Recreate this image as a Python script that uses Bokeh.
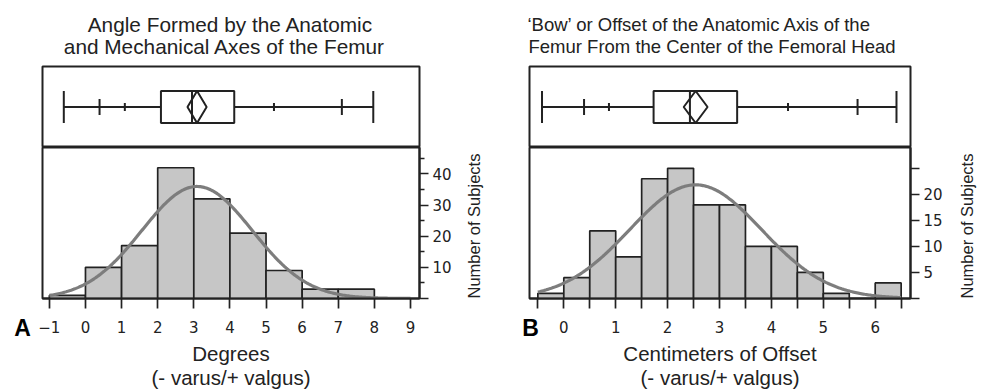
import numpy as np
from bokeh.plotting import figure
from bokeh.models import Range1d, FixedTicker, Label
from bokeh.layouts import gridplot
from bokeh.embed import file_html
from bokeh.resources import INLINE

# ---------------- Panel A: anatomic / mechanical axis angle ----------------
a_edges = [-1, 0, 1, 2, 3, 4, 5, 6, 7, 8, 9]
a_counts = [1, 10, 17, 42, 32, 21, 9, 3, 3, 0]
a_mean = 3.09
a_sd = 1.53
a_xticks = [-1, 0, 1, 2, 3, 4, 5, 6, 7, 8, 9]
a_yticks = [0, 10, 20, 30, 40]
a_yminor = [5, 15, 25, 35, 45]
# quantile box plot: min, 2.5%, 10%, Q1, median, Q3, 90%, 97.5%, max
a_box = [-0.6, 0.39, 1.09, 2.09, 2.95, 4.12, 5.22, 7.1, 7.97]
a_mean_ci = 0.265

# ---------------- Panel B: bow / offset ----------------
b_edges = [-0.5, 0, 0.5, 1, 1.5, 2, 2.5, 3, 3.5, 4, 4.5, 5, 5.5, 6, 6.5]
b_counts = [1, 4, 13, 8, 23, 25, 18, 18, 10, 10, 5, 1, 0, 3]
b_mean = 2.54
b_sd = 1.27
b_xticks = [0, 1, 2, 3, 4, 5, 6]
b_xminor = [-0.5, 0.5, 1.5, 2.5, 3.5, 4.5, 5.5, 6.5]
b_yticks = [0, 5, 10, 15, 20, 25]
b_box = [-0.42, 0.39, 0.87, 1.73, 2.43, 3.34, 4.32, 5.66, 6.41]
b_mean_ci = 0.23

a_title = ["Angle Formed by the Anatomic", "and Mechanical Axes of the Femur"]
b_title = ["\u2018Bow\u2019 or Offset of the Anatomic Axis of the",
           "Femur From the Center of the Femoral Head"]
a_xlabel = "Degrees\n(- varus/+ valgus)"
b_xlabel = "Centimeters of Offset\n(- varus/+ valgus)"
ylabel = "Number of Subjects"

INK = "#222222"
BAR = "#c6c6c6"
CURVE = "#7d7d7d"
TFONT = "Liberation Sans"
NFONT = "DejaVu Sans"


def box_fig(width, ml, mr, xr, stats, mean, ci, title, tx, talign, tsize):
    p = figure(width=width, height=147, x_range=xr, y_range=Range1d(0, 81),
               output_backend="svg", toolbar_location=None,
               x_axis_location=None, y_axis_location=None,
               min_border_left=ml, min_border_right=mr,
               min_border_top=66, min_border_bottom=0)
    p.grid.visible = False
    p.outline_line_color = INK
    p.outline_line_width = 2
    p.title.text = ""
    for line, x, y in zip(title, tx, [23.5, 45.5]):
        p.add_layout(Label(x=x, y=y, x_units="canvas", y_units="canvas", text=line,
                           text_font=TFONT, text_font_size=tsize,
                           text_color=INK, text_align=talign,
                           text_baseline="middle"), "above")
    c, h = 40.5, 16
    mn, p025, p10, q1, med, q3, p90, p975, mx = stats
    p.segment(x0=[mn], x1=[mx], y0=[c], y1=[c], line_color=INK, line_width=2)
    p.segment(x0=[mn, mx], x1=[mn, mx], y0=[c - h] * 2, y1=[c + h] * 2,
              line_color=INK, line_width=2)
    p.segment(x0=[p025, p975], x1=[p025, p975], y0=[c - 8] * 2, y1=[c + 8] * 2,
              line_color=INK, line_width=2)
    p.segment(x0=[p10, p90], x1=[p10, p90], y0=[c - 4] * 2, y1=[c + 4] * 2,
              line_color=INK, line_width=2)
    p.quad(left=[q1], right=[q3], bottom=[c - h], top=[c + h],
           fill_color="white", line_color=INK, line_width=2)
    p.segment(x0=[med], x1=[med], y0=[c - h], y1=[c + h], line_color=INK, line_width=2)
    p.patch(x=[mean - ci, mean, mean + ci, mean], y=[c, c + h, c, c - h],
            fill_color=None, line_color=INK, line_width=2)
    return p


def hist_fig(width, ml, mr, xr, ytop, edges, counts, mean, sd, xlabel, letter, lx, ylstand):
    p = figure(width=width, height=245, x_range=xr, y_range=Range1d(0, ytop),
               output_backend="svg", toolbar_location=None,
               y_axis_location="right",
               min_border_left=ml, min_border_right=mr,
               min_border_top=0, min_border_bottom=92)
    p.grid.visible = False
    p.outline_line_color = INK
    p.outline_line_width = 2
    p.quad(left=edges[:-1], right=edges[1:], bottom=0, top=counts,
           fill_color=BAR, line_color=INK, line_width=1.7)
    bw = edges[1] - edges[0]
    n = sum(counts)
    xs = np.linspace(edges[0], edges[-1], 300)
    ys = n * bw / (sd * np.sqrt(2 * np.pi)) * np.exp(-0.5 * ((xs - mean) / sd) ** 2)
    p.line(xs, ys, line_color=CURVE, line_width=3.2)

    xa = p.xaxis[0]
    xa.axis_line_color = INK
    xa.axis_line_width = 2
    xa.major_tick_line_color = INK
    xa.minor_tick_line_color = INK
    xa.major_tick_line_width = 1.7
    xa.minor_tick_line_width = 1.7
    xa.major_tick_in = 0
    xa.major_tick_out = 10
    xa.minor_tick_in = 0
    xa.minor_tick_out = 10
    xa.major_label_text_font = NFONT
    xa.major_label_text_font_size = "15px"
    xa.major_label_text_color = INK
    xa.major_label_standoff = 12
    xa.axis_label = xlabel
    xa.axis_label_text_font = TFONT
    xa.axis_label_text_font_size = "20.5px"
    xa.axis_label_text_font_style = "normal"
    xa.axis_label_text_color = INK
    xa.axis_label_standoff = 6
    xa.axis_label_text_line_height = 1.07

    ya = p.yaxis[0]
    ya.axis_line_color = INK
    ya.axis_line_width = 2
    ya.major_tick_line_color = INK
    ya.minor_tick_line_color = INK
    ya.major_tick_line_width = 1.7
    ya.minor_tick_line_width = 1.7
    ya.major_tick_in = 0
    ya.minor_tick_in = 0
    ya.major_label_text_font = NFONT
    ya.major_label_text_font_size = "15px"
    ya.major_label_text_color = INK
    ya.major_label_standoff = 4
    ya.axis_label = ylabel
    ya.axis_label_text_font = TFONT
    ya.axis_label_text_font_size = "16.5px"
    ya.axis_label_text_font_style = "normal"
    ya.axis_label_text_color = INK
    ya.axis_label_standoff = ylstand
    ya.axis_label_orientation = float(np.pi / 2)
    ya.axis_label_align = "start"

    p.add_layout(Label(x=lx, y=180, x_units="canvas", y_units="canvas", text=letter,
                       text_font=TFONT, text_font_size="23px",
                       text_font_style="bold", text_color="black",
                       text_align="center", text_baseline="middle"), "left")
    return p


# ---- Panel A ----
a_xr = Range1d(-1.19, 9.25)
ha = hist_fig(494, 42, 72, a_xr, 48.5, a_edges, a_counts, a_mean, a_sd, a_xlabel,
              "A", 22, 19)
ha.xaxis[0].ticker = FixedTicker(ticks=a_xticks, minor_ticks=[])
ha.yaxis[0].ticker = FixedTicker(ticks=a_yticks, minor_ticks=a_yminor)
ha.yaxis[0].major_label_overrides = {0: ""}
ha.yaxis[0].major_tick_out = 9
ha.yaxis[0].minor_tick_out = 5
ba = box_fig(494, 42, 72, a_xr, a_box, a_mean, a_mean_ci, a_title,
             [230, 224], "center", "20.8px")

# ---- Panel B ----
b_xr = Range1d(-0.661, 6.68)
hb = hist_fig(493, 35, 77, b_xr, 29, b_edges, b_counts, b_mean, b_sd, b_xlabel,
              "B", 36, 21)
hb.xaxis[0].ticker = FixedTicker(ticks=b_xticks, minor_ticks=b_xminor)
hb.yaxis[0].ticker = FixedTicker(ticks=b_yticks, minor_ticks=[])
hb.yaxis[0].major_label_overrides = {0: "", 25: ""}
hb.yaxis[0].major_tick_out = 9
bb = box_fig(493, 35, 77, b_xr, b_box, b_mean, b_mean_ci, b_title,
             [33, 34], "left", "18.5px")

grid = gridplot([[ba, bb], [ha, hb]], toolbar_location=None)

open("out.html", "w").write(file_html(grid, INLINE))
